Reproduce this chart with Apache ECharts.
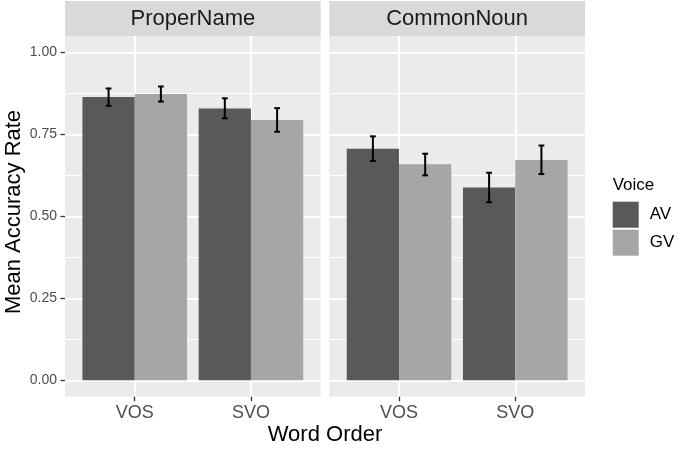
<!DOCTYPE html>
<html>
<head>
<meta charset="utf-8">
<script src="https://cdn.jsdelivr.net/npm/echarts@6/dist/echarts.min.js"></script>
<style>html,body{margin:0;padding:0;background:#fff;}#c{width:685px;height:449px;}</style>
</head>
<body>
<div id="c"></div>
<script>
// ---- data ----
const categories = ['VOS', 'SVO'];
const facets = ['ProperName', 'CommonNoun'];
const voices = ['AV', 'GV'];
const yTicks = [0, 0.25, 0.5, 0.75, 1.0];
const yMinorTicks = [0.125, 0.375, 0.625, 0.875];

// ProperName
const properAV = [0.864, 0.829];
const properAVLow = [0.837, 0.799];
const properAVHigh = [0.890, 0.860];
const properGV = [0.873, 0.794];
const properGVLow = [0.850, 0.758];
const properGVHigh = [0.896, 0.830];
// CommonNoun
const commonAV = [0.706, 0.588];
const commonAVLow = [0.669, 0.543];
const commonAVHigh = [0.744, 0.633];
const commonGV = [0.659, 0.672];
const commonGVLow = [0.625, 0.629];
const commonGVHigh = [0.691, 0.716];

// ---- styling ----
const FONT = 'Liberation Sans, Arial, Helvetica, sans-serif';
const colors = { AV: '#595959', GV: '#A6A6A6' };
const dodge = 0.225, halfBar = 0.225, capHalf = 0.025;

const chart = echarts.init(document.getElementById('c'), null, { renderer: 'canvas' });

function barRender(offset, color) {
  return function (params, api) {
    const x = api.value(0) + offset, y = api.value(1);
    const p0 = api.coord([x - halfBar, y]);
    const p1 = api.coord([x + halfBar, 0]);
    return { type: 'rect', shape: { x: p0[0], y: p0[1], width: p1[0] - p0[0], height: p1[1] - p0[1] }, style: { fill: color } };
  };
}
function errRender(offset) {
  return function (params, api) {
    const x = api.value(0) + offset, lo = api.value(1), hi = api.value(2);
    const top = api.coord([x, hi]), bot = api.coord([x, lo]);
    const tl = api.coord([x - capHalf, hi]), tr = api.coord([x + capHalf, hi]);
    const bl = api.coord([x - capHalf, lo]), br = api.coord([x + capHalf, lo]);
    const st = { stroke: '#000', lineWidth: 2 };
    return { type: 'group', children: [
      { type: 'line', shape: { x1: top[0], y1: top[1], x2: bot[0], y2: bot[1] }, style: st },
      { type: 'line', shape: { x1: tl[0], y1: tl[1], x2: tr[0], y2: tr[1] }, style: st },
      { type: 'line', shape: { x1: bl[0], y1: bl[1], x2: br[0], y2: br[1] }, style: st }
    ] };
  };
}
function pts(vals) { return vals.map((v, i) => [i + 1, v]); }
function errPts(lo, hi) { return lo.map((v, i) => [i + 1, v, hi[i]]); }

const panelW = 255.7, panelH = 360.7, panelTop = 36;
const grids = [
  { left: 65, top: panelTop, width: panelW, height: panelH, show: true, backgroundColor: '#EBEBEB', borderWidth: 0 },
  { left: 329.3, top: panelTop, width: panelW, height: panelH, show: true, backgroundColor: '#EBEBEB', borderWidth: 0 }
];

const xAxes = [0, 1].map(g => ({
  type: 'value', gridIndex: g, min: 0.4, max: 2.6, position: 'bottom',
  axisLine: { show: false, onZero: false },
  axisTick: { show: true, customValues: [1, 2], length: 4.5, lineStyle: { color: '#333333', width: 1.3 } },
  axisLabel: { show: true, customValues: [1, 2], formatter: v => categories[Math.round(v) - 1], fontSize: 18, color: '#4D4D4D', fontFamily: FONT, margin: 7 },
  splitLine: { show: true, lineStyle: { color: '#FFFFFF', width: 2 } }
}));

const yAxes = [];
[0, 1].forEach(g => {
  yAxes.push({
    type: 'value', gridIndex: g, min: -0.05, max: 1.05, position: 'left',
    axisLine: { show: false, onZero: false },
    axisTick: { show: g === 0, customValues: yTicks, length: 4.5, lineStyle: { color: '#333333', width: 1.3 } },
    axisLabel: { show: g === 0, customValues: yTicks, formatter: v => v.toFixed(2), fontSize: 14, color: '#4D4D4D', fontFamily: FONT, margin: 8 },
    splitLine: { show: true, lineStyle: { color: '#FFFFFF', width: 2 } }
  });
});
[0, 1].forEach(g => {
  yAxes.push({
    type: 'value', gridIndex: g, min: -0.05, max: 1.05, position: 'left',
    axisLine: { show: false, onZero: false },
    axisTick: { show: false, customValues: yMinorTicks },
    axisLabel: { show: false, customValues: yMinorTicks },
    splitLine: { show: true, lineStyle: { color: '#FFFFFF', width: 1 } }
  });
});

const panelData = [
  { AV: properAV, GV: properGV, AVlo: properAVLow, AVhi: properAVHigh, GVlo: properGVLow, GVhi: properGVHigh },
  { AV: commonAV, GV: commonGV, AVlo: commonAVLow, AVhi: commonAVHigh, GVlo: commonGVLow, GVhi: commonGVHigh }
];

const series = [];
panelData.forEach((d, g) => {
  voices.forEach((v, k) => {
    const off = k === 0 ? -dodge : dodge;
    series.push({
      type: 'custom', name: v, xAxisIndex: g, yAxisIndex: g, z: 3,
      itemStyle: { color: colors[v] },
      renderItem: barRender(off, colors[v]), data: pts(d[v]),
      encode: { x: 0, y: 1 }
    });
  });
  voices.forEach((v, k) => {
    const off = k === 0 ? -dodge : dodge;
    series.push({
      type: 'custom', name: v + ' error', xAxisIndex: g, yAxisIndex: g, z: 4,
      renderItem: errRender(off), data: errPts(d[v + 'lo'], d[v + 'hi']),
      encode: { x: 0, y: [1, 2] }
    });
  });
});

const graphics = [];
facets.forEach((f, g) => {
  const left = grids[g].left;
  graphics.push({ type: 'rect', left: left, top: 1, shape: { width: panelW, height: panelTop - 1 }, style: { fill: '#D9D9D9' }, z: 1 });
  graphics.push({ type: 'text', x: left + panelW / 2, y: 19, style: { text: f, fill: '#1A1A1A', font: '22px ' + FONT, textAlign: 'center', textVerticalAlign: 'middle' }, z: 2 });
});
graphics.push({ type: 'text', x: 325, y: 435, style: { text: 'Word Order', fill: '#000', font: '22px ' + FONT, textAlign: 'center', textVerticalAlign: 'middle' } });
graphics.push({ type: 'text', x: 14, y: 212, rotation: Math.PI / 2, style: { text: 'Mean Accuracy Rate', fill: '#000', font: '22px ' + FONT, textAlign: 'center', textVerticalAlign: 'middle' } });
graphics.push({ type: 'text', x: 612.7, y: 185, style: { text: 'Voice', fill: '#000', font: '17px ' + FONT, textAlign: 'left', textVerticalAlign: 'middle' } });

chart.setOption({
  animation: false,
  backgroundColor: '#FFFFFF',
  grid: grids,
  xAxis: xAxes,
  yAxis: yAxes,
  legend: {
    orient: 'vertical', left: 612.7, top: 201.7, padding: 0,
    itemWidth: 26, itemHeight: 26, itemGap: 2,
    data: voices.map(v => ({ name: v, icon: 'rect', itemStyle: { color: colors[v] } })),
    textStyle: { fontSize: 17, color: '#000', fontFamily: FONT, padding: [0, 0, 0, 6] },
    selectedMode: false
  },
  graphic: graphics,
  series: series
});
</script>
</body>
</html>
